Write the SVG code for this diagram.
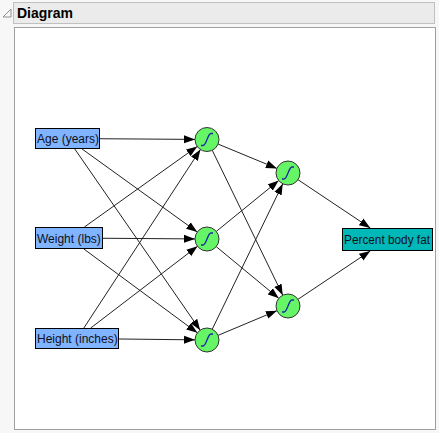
<svg xmlns="http://www.w3.org/2000/svg" width="439" height="433" viewBox="0 0 439 433">
<style>
.lbl{font-family:"Liberation Sans",Arial,sans-serif;font-size:12px;fill:#101020}
.in{fill:#80b4ff;stroke:#000;stroke-width:1}
.out{fill:#00b8b8;stroke:#000;stroke-width:1}
.hid{fill:#66f566;stroke:#333;stroke-width:1}
.sig{fill:none;stroke:#1a2aa0;stroke-width:1.3}
.edge line{stroke:#222;stroke-width:1;marker-end:url(#arr)}
</style>
<defs>
<marker id="arr" markerUnits="userSpaceOnUse" markerWidth="12" markerHeight="9" refX="11" refY="4.5" orient="auto">
<path d="M0,0.5 L11,4.5 L0,8.5 z" fill="#000"/>
</marker>
<path id="s" d="M-6,6 L-4,6 C-0.5,6 0.5,-6 4,-6 L6,-6"/>
</defs>
<rect x="0" y="0" width="439" height="433" fill="#f7f7f7"/>
<g id="header">
<rect x="13.5" y="2.5" width="421" height="21" fill="#ebebeb" stroke="#c0c0c0"/>
<polygon points="3,17 11,9 11,17" fill="none" stroke="#909090"/>
<text x="17" y="18" font-family="Liberation Sans,Arial,sans-serif" font-size="14" font-weight="bold" fill="#000">Diagram</text>
</g>
<rect x="14.5" y="27.5" width="421" height="402" fill="#fff" stroke="#a0a0a0"/>
<g id="connectors" class="edge">
<line x1="100" y1="138.73" x2="195" y2="139.41"/>
<line x1="82.08" y1="149" x2="197.26" y2="231.99"/>
<line x1="74.77" y1="149" x2="200.17" y2="330.13"/>
<line x1="84.41" y1="227" x2="197.23" y2="146.47"/>
<line x1="103" y1="238.25" x2="195" y2="238.91"/>
<line x1="83.88" y1="249" x2="197.35" y2="332.87"/>
<line x1="83.86" y1="328" x2="200.44" y2="149.55"/>
<line x1="90.72" y1="328" x2="197.47" y2="246.29"/>
<line x1="119" y1="338.98" x2="195" y2="339.86"/>
<line x1="218.09" y1="144.09" x2="276.91" y2="168.41"/>
<line x1="212.25" y1="150.29" x2="282.75" y2="295.21"/>
<line x1="216.30" y1="231.42" x2="278.70" y2="180.58"/>
<line x1="216.25" y1="246.65" x2="278.75" y2="298.35"/>
<line x1="212.24" y1="329.20" x2="282.76" y2="183.80"/>
<line x1="218.06" y1="335.36" x2="276.94" y2="310.64"/>
<line x1="297.98" y1="179.67" x2="370.29" y2="228"/>
<line x1="297.98" y1="299.33" x2="370.29" y2="251"/>
</g>
<g id="age"><rect class="in" x="35.5" y="128.5" width="64" height="20"/><text class="lbl" x="37" y="143">Age (years)</text></g>
<g id="weight"><rect class="in" x="35.5" y="227.5" width="67" height="21"/><text class="lbl" x="37" y="242.5">Weight (lbs)</text></g>
<g id="height"><rect class="in" x="35.5" y="328.5" width="83" height="20"/><text class="lbl" x="37" y="343">Height (inches)</text></g>
<g id="h1"><circle class="hid" cx="207" cy="139.5" r="12"/><use href="#s" class="sig" transform="translate(207,139.5)"/></g>
<g id="h2"><circle class="hid" cx="207" cy="239" r="12"/><use href="#s" class="sig" transform="translate(207,239)"/></g>
<g id="h3"><circle class="hid" cx="207" cy="340" r="12"/><use href="#s" class="sig" transform="translate(207,340)"/></g>
<g id="h4"><circle class="hid" cx="288" cy="173" r="12"/><use href="#s" class="sig" transform="translate(288,173)"/></g>
<g id="h5"><circle class="hid" cx="288" cy="306" r="12"/><use href="#s" class="sig" transform="translate(288,306)"/></g>
<g id="output"><rect class="out" x="342.5" y="228.5" width="90" height="22"/><text class="lbl" x="344" y="244" textLength="86" lengthAdjust="spacingAndGlyphs">Percent body fat</text></g>
</svg>
